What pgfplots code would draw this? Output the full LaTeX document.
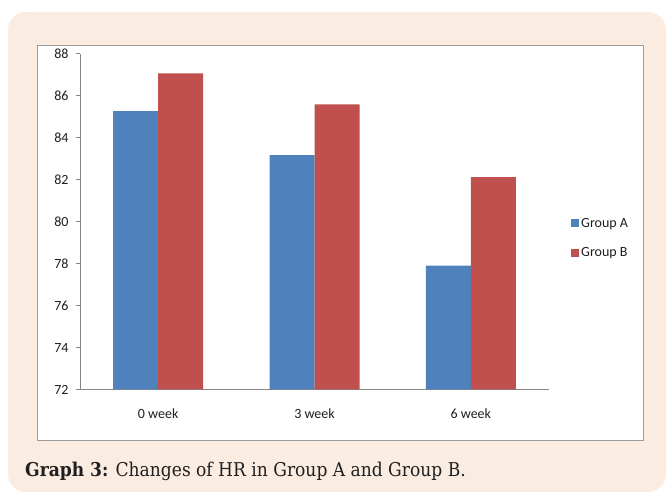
\documentclass[border=0pt]{standalone}
\usepackage{pgfplots}
\pgfplotsset{compat=1.18}
\usepackage{fontspec}
\setmainfont{Carlito}
\newfontfamily\capfont{DejaVu Serif Condensed}
\definecolor{peach}{HTML}{FBECE2}
\definecolor{boxgray}{HTML}{9C9C9C}
\definecolor{axgray}{HTML}{868686}
\definecolor{blueA}{HTML}{4F81BD}
\definecolor{redB}{HTML}{C0504D}
\definecolor{txt}{HTML}{1F1F1F}
\begin{document}
\begin{tikzpicture}[x=1pt,y=1pt]
\useasboundingbox (0,0) rectangle (666,492);
\fill[white] (0,0) rectangle (666,492);
\fill[peach, rounded corners=18pt] (8,0) rectangle (666,480);
\draw[boxgray, line width=1pt, fill=white] (37,51) rectangle (643,446);
\begin{axis}[
  at={(80pt,102.5pt)}, anchor=south west,
  scale only axis, width=469pt, height=335.9pt,
  xmin=-0.5, xmax=2.5, ymin=72, ymax=88,
  axis x line*=bottom, axis y line*=left,
  axis line style={axgray, line width=0.8pt},
  ytick={72,74,...,88},
  xtick={0,1,2},
  xticklabels={0 week,3 week,6 week},
  extra x ticks={-0.5,0.5,1.5,2.5},
  extra x tick labels={},
  extra x tick style={major tick length=4pt, tick style={axgray, line width=0.8pt}},
  x tick style={draw=none},
  y tick style={axgray, line width=0.8pt},
  major tick length=4pt,
  tick align=outside,
  /pgf/number format/assume math mode=true,
  ticklabel style={font=\fontsize{14}{16}\selectfont, text=txt},
  xticklabel style={yshift=-12pt},
  yticklabel style={xshift=-4pt},
  ybar, bar width=45pt,
  legend style={at={(1.047,0.451)}, anchor=west, draw=none, fill=none,
    font=\fontsize{14}{16}\selectfont, text=txt, row sep=15pt,
    inner sep=0pt},
  legend cell align=left,
  legend image code/.code={\fill[#1] (0pt,-4pt) rectangle (8pt,4pt);},
  clip=false,
]
\addplot[fill=blueA, draw=none, bar shift=-22.5pt] coordinates {(0,85.26) (1,83.16) (2,77.9)};
\addplot[fill=redB, draw=none, bar shift=22.5pt] coordinates {(0,87.06) (1,85.58) (2,82.12)};
\legend{Group A,Group B}
\end{axis}
\node[anchor=base west, inner sep=0pt, text=txt, font=\capfont\fontsize{19}{22}\selectfont] at (25,15) {\textbf{Graph 3:} Changes of HR in Group A and Group B.};
\end{tikzpicture}
\end{document}
